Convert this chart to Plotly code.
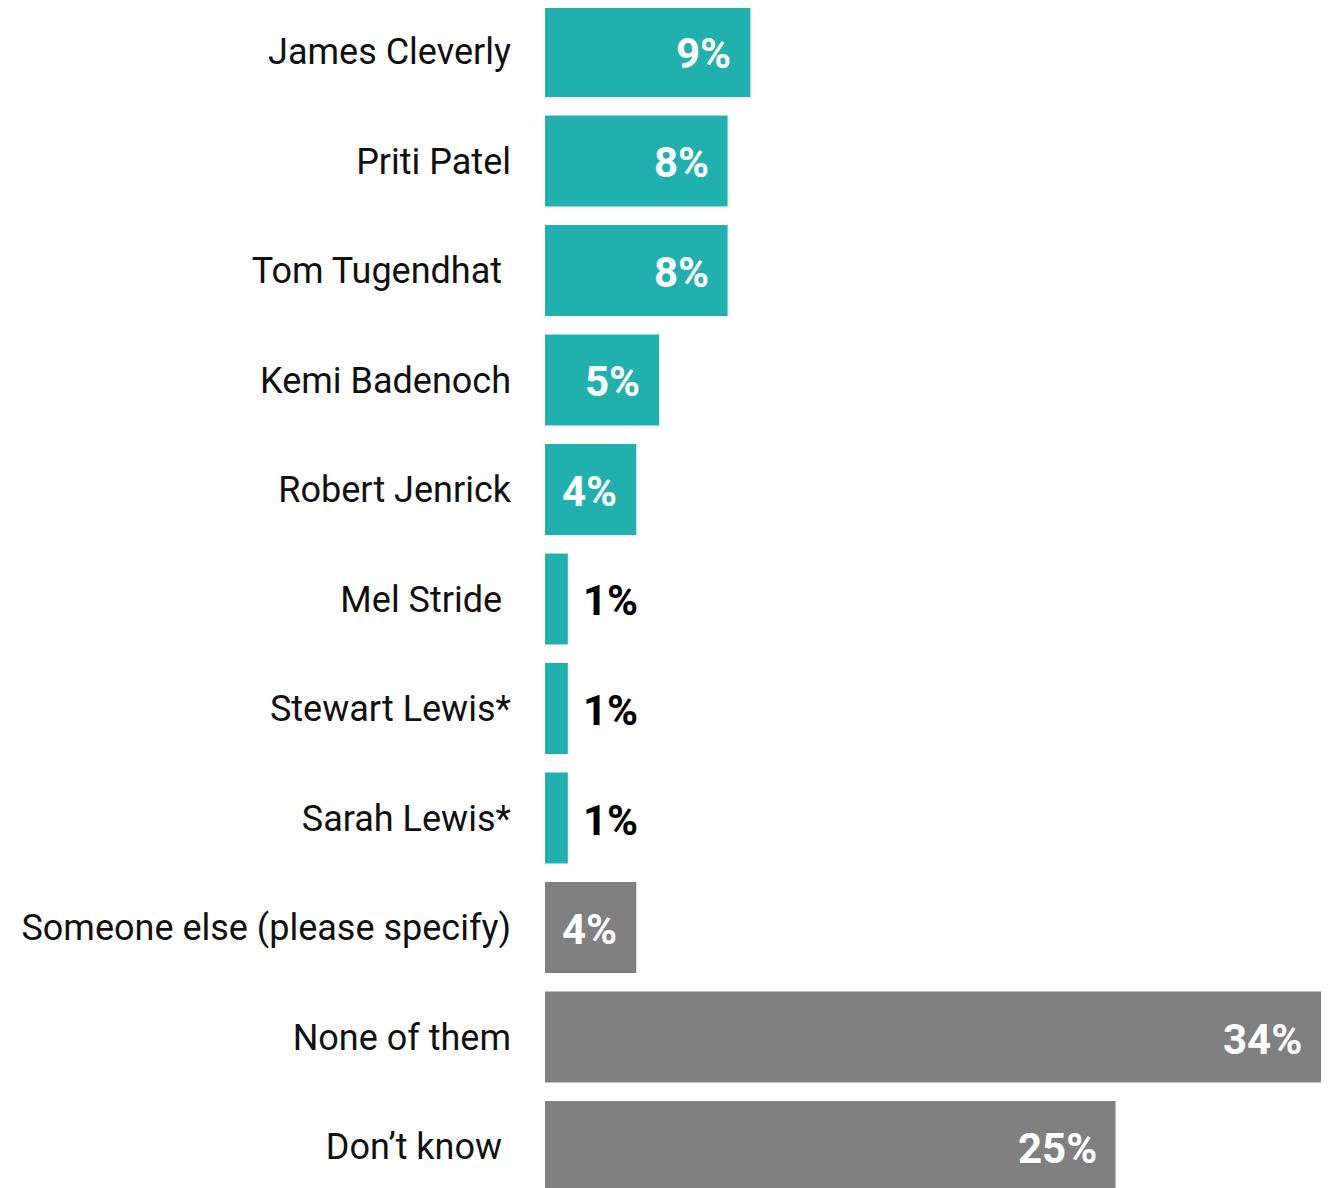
import plotly.graph_objects as go

categories = ["James Cleverly", "Priti Patel", "Tom Tugendhat\u00a0", "Kemi Badenoch",
              "Robert Jenrick", "Mel Stride\u00a0", "Stewart Lewis*", "Sarah Lewis*",
              "Someone else (please specify)", "None of them", "Don\u2019t know\u00a0"]
values = [9, 8, 8, 5, 4, 1, 1, 1, 4, 34, 25]
is_candidate = [True] * 8 + [False] * 3

TEAL = "#20B1AE"
GREY = "#808080"
colors = [TEAL if c else GREY for c in is_candidate]
idx = list(range(len(categories)))

fig = go.Figure()
fig.add_trace(go.Bar(
    x=values, y=idx, orientation="h", marker=dict(color=colors, line=dict(width=0)),
    width=0.83, hoverinfo="skip",
))

for i, v in zip(idx, values):
    inside = v >= 3
    fig.add_annotation(
        x=v, y=i, xref="x", yref="y",
        text=f"<b>{v}%</b>", showarrow=False,
        xanchor="right" if inside else "left",
        xshift=-17 if inside else 13, yshift=-2,
        font=dict(family="Roboto", size=42, color="white" if inside else "black"),
    )

fig.update_layout(
    width=1330, height=1188,
    margin=dict(l=537, r=17, t=0, b=0),
    paper_bgcolor="white", plot_bgcolor="white",
    showlegend=False,
    font=dict(family="Roboto", size=36, color="#111111"),
)
fig.update_xaxes(range=[0, 34], visible=False, fixedrange=True)
fig.update_yaxes(
    range=[10.452, -0.397], tickmode="array", tickvals=idx, ticktext=categories,
    showgrid=False, zeroline=False, showline=False, ticks="",
    ticklabelstandoff=33, tickfont=dict(family="Roboto", size=36, color="#111111"),
)

fig.write_html("out.html")
